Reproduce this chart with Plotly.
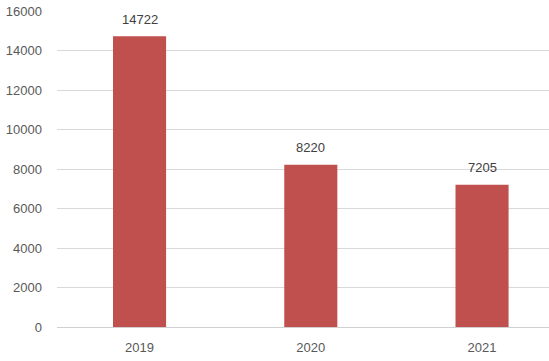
import plotly.graph_objects as go

years = ["2019", "2020", "2021"]
values = [14722, 8220, 7205]
y_ticks = [0, 2000, 4000, 6000, 8000, 10000, 12000, 14000, 16000]

bar_color = "#C0504D"
text_color = "#595959"
font_family = "Liberation Sans, Arial, sans-serif"

fig = go.Figure()
fig.add_trace(go.Bar(
    x=[0, 1, 2], y=values, width=0.31,
    marker=dict(color=bar_color, line=dict(width=0)),
    hoverinfo="skip",
))

for i, v in enumerate(values):
    fig.add_annotation(x=i, y=v, text=str(v), showarrow=False,
                       yshift=17, yanchor="middle",
                       font=dict(size=13, color="#404040", family=font_family))

fig.update_layout(
    width=549, height=361,
    margin=dict(l=57, r=0, t=11, b=33.5),
    paper_bgcolor="white", plot_bgcolor="white",
    showlegend=False,
    font=dict(family=font_family, size=13, color=text_color),
    xaxis=dict(
        range=[-0.482, 2.391],
        tickvals=[0, 1, 2], ticktext=years,
        showgrid=False, zeroline=False,
        showline=False, ticks="",
        ticklabelstandoff=11,
        tickfont=dict(size=13, color=text_color),
    ),
    yaxis=dict(
        range=[0, 16000],
        tickvals=y_ticks,
        ticktext=[str(t) for t in y_ticks],
        showgrid=True, gridcolor="#D9D9D9", gridwidth=1,
        zeroline=True, zerolinecolor="#D0D0D0", zerolinewidth=1,
        showline=False, ticks="",
        ticklabelstandoff=14,
        tickfont=dict(size=13, color=text_color),
    ),
)

# remove the page's default 8px body margin so the figure fills the window
fig.write_html(
    "out.html",
    config={"displayModeBar": False, "staticPlot": True},
    post_script="document.body.style.margin='0';document.body.style.overflow='hidden';",
)
